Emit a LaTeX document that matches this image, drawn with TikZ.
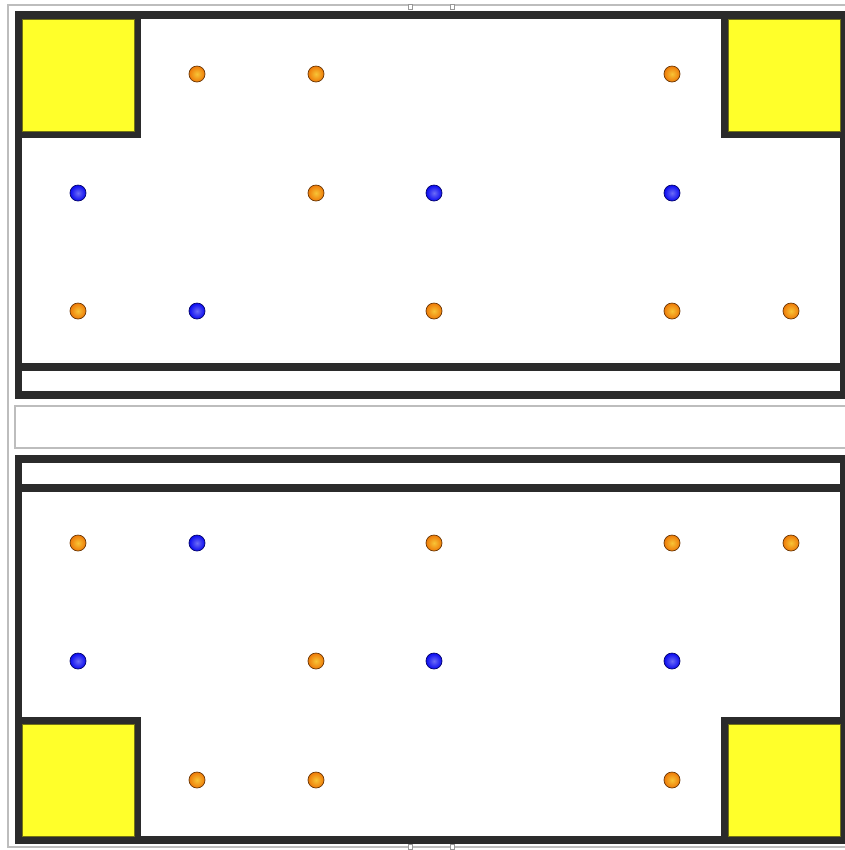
\documentclass[tikz,border=0pt]{standalone}
\usepackage{tikz}
\usetikzlibrary{calc}
\definecolor{mwall}{HTML}{2B2B2B}
\definecolor{mgoal}{HTML}{FFFF2A}
\definecolor{mframe}{HTML}{BDBDBD}
\definecolor{morange}{HTML}{EE7A08}
\definecolor{mblue}{HTML}{0A0AF0}
\tikzset{
  wall/.style={fill=mwall},
  floor/.style={fill=white},
  goal/.style={fill=mgoal, draw=mgoal!45!black, line width=0.3pt},
  frame/.style={draw=mframe, line width=0.8pt},
  handle/.style={draw=mframe!80!black, fill=white, line width=0.4pt},
  oball/.style={inner color=morange!55!yellow!80!white, outer color=morange,
                draw=morange!45!black, line width=0.4pt},
  bball/.style={inner color=mblue!60!white, outer color=mblue,
                draw=mblue!45!black, line width=0.4pt},
}

\begin{document}
\begin{tikzpicture}[x=0.02cm, y=-0.02cm]
  \useasboundingbox (0,0) rectangle (845,850);
  \clip (0,0) rectangle (845,850);
  \fill[white] (0,0) rectangle (845,850);

  %% ── outer frame ──
  \draw[frame] (8,5) rectangle (860,847);
  \draw[frame] (15,406) rectangle (860,448);
  \foreach \hx in {410,452}{
    \draw[handle] (\hx-2,4) rectangle (\hx+2,9);
    \draw[handle] (\hx-2,844) rectangle (\hx+2,849);
  }

  %% ── upper field ──
  \fill[wall]  (15,11) rectangle (852,399);
  \fill[floor] (22,19) rectangle (840,363);
  \fill[floor] (22,371) rectangle (840,391);
  \fill[wall]  (22,19) rectangle (141,138);
  \fill[wall]  (721,19) rectangle (840,138);
  \draw[goal]  (22,19) rectangle (134,131);
  \draw[goal]  (728,19) rectangle (840,131);

  %% ── lower field ──
  \fill[wall]  (15,455) rectangle (852,844);
  \fill[floor] (22,463) rectangle (840,484);
  \fill[floor] (22,492) rectangle (840,836);
  \fill[wall]  (22,717) rectangle (141,836);
  \fill[wall]  (721,717) rectangle (840,836);
  \draw[goal]  (22,724) rectangle (134,836);
  \draw[goal]  (728,724) rectangle (840,836);

  %% ── balls ──
  \foreach \bx/\by in {197/74,316/74,672/74, 316/193,
                       78/311,434/311,672/311,791/311,
                       78/543,434/543,672/543,791/543, 316/661,
                       197/780,316/780,672/780}{
    \shade[oball] (\bx,\by) circle[radius=8];
  }
  \foreach \bx/\by in {78/193,434/193,672/193, 197/311,
                       197/543, 78/661,434/661,672/661}{
    \shade[bball] (\bx,\by) circle[radius=8];
  }
\end{tikzpicture}
\end{document}
